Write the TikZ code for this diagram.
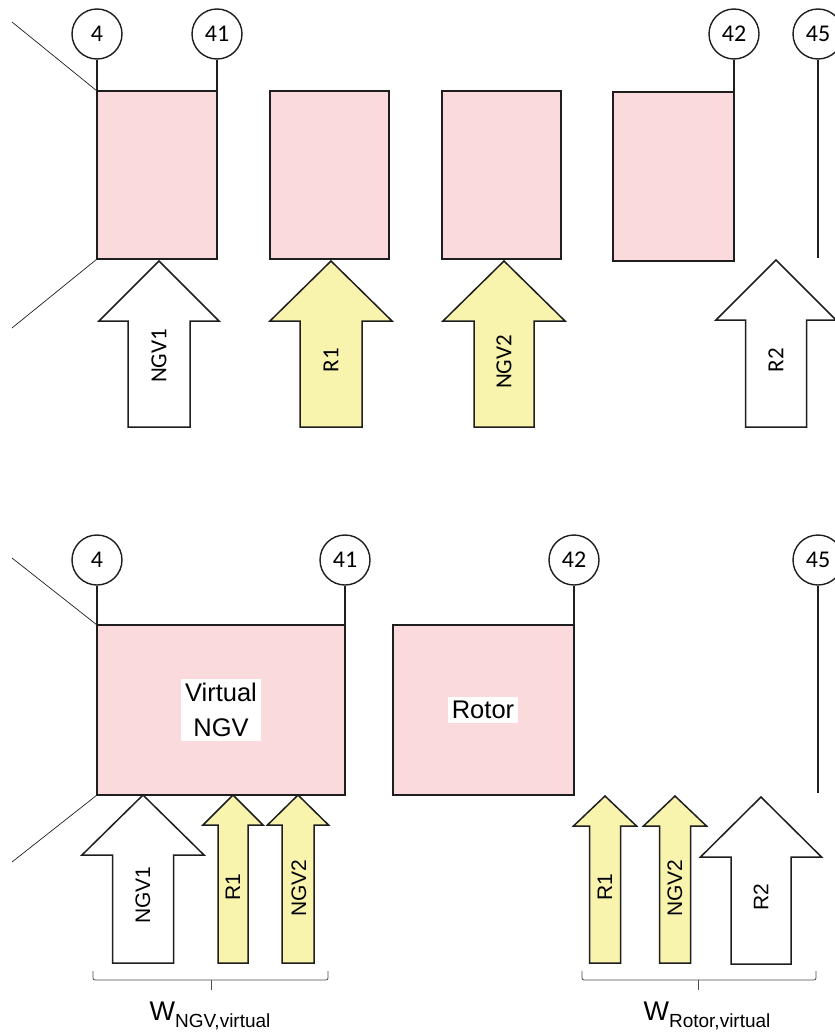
\documentclass[tikz,border=0pt]{standalone}
\usepackage{fontspec}
\setmainfont{Liberation Sans}
\newfontfamily\carlito{Carlito}
\definecolor{pinkfill}{RGB}{250,218,221}
\definecolor{yellowfill}{RGB}{248,244,174}
\definecolor{ink}{RGB}{30,30,30}
\newcommand\fatarrow[8]{%
  \draw[arrowshape,#8] (#2,#3) -- (#2+#4,#6) -- (#2+#5,#6) -- (#2+#5,#7) -- (#2-#5,#7) -- (#2-#5,#6) -- (#2-#4,#6) -- cycle;
  \coordinate (#1) at (#2,#3);}
\begin{document}
\begin{tikzpicture}[x=1pt,y=-1pt,
  station/.style={circle,draw=ink,line width=1.4pt,minimum size=50pt,inner sep=0pt,font=\carlito\fontsize{24}{26}\selectfont},
  stage/.style={rectangle,draw=ink,line width=1.6pt,fill=pinkfill,anchor=north west,inner sep=0pt,outer sep=0pt},
  lead/.style={draw=ink,line width=1.4pt},
  thin/.style={draw=ink,line width=0.7pt},
  arrowshape/.style={draw=ink,line width=1.5pt,line join=miter},
  whitearrow/.style={fill=white},
  yellowarrow/.style={fill=yellowfill},
  toplab/.style={rotate=90,font=\carlito\fontsize{23}{26}\selectfont,inner sep=0pt},
  botlab/.style={rotate=90,font=\fontsize{21}{24}\selectfont,inner sep=0pt},
  boxlab/.style={fill=white,font=\fontsize{25.5}{35}\selectfont,align=center,inner sep=4pt},
  brace/.style={draw=ink!80,line width=0.8pt,rounded corners=2pt},
  wlab/.style={inner sep=0pt}
]
\useasboundingbox (0,0) rectangle (835,1036);

% ===== Top section =====
\node[station] (t4) at (97,34) {4};
\node[station] (t41) at (217,34) {41};
\node[station] (t42) at (734,34) {42};
\node[station] (t45) at (818,34) {45};

\node[stage,minimum width=120pt,minimum height=168pt] (tb1) at (97,91) {};
\node[stage,minimum width=119pt,minimum height=168pt] (tb2) at (270,91) {};
\node[stage,minimum width=119pt,minimum height=168pt] (tb3) at (442,91) {};
\node[stage,minimum width=121pt,minimum height=169pt] (tb4) at (613,92) {};

\draw[lead] (t4.south) -- (t4.south |- tb1.north);
\draw[lead] (t41.south) -- (t41.south |- tb1.north);
\draw[lead] (t42.south) -- (t42.south |- tb4.north);
\coordinate (t45end) at (818,258);
\draw[lead] (t45.south) -- (t45end);

\coordinate (td1) at (12,22);
\coordinate (td2) at (12,328);
\draw[thin] (td1) -- (tb1.north west);
\draw[thin] (tb1.south west) -- (td2);

\fatarrow{ta1}{159}{261}{60}{31}{321}{427}{whitearrow}
\fatarrow{ta2}{331}{261}{61}{31}{321}{427}{yellowarrow}
\fatarrow{ta3}{504}{261}{61}{30}{321}{427}{yellowarrow}
\fatarrow{ta4}{776}{260}{60}{30.5}{320}{427}{whitearrow}

\node[toplab] (tl1) at (159,356) {NGV1};
\node[toplab] (tl2) at (331,360) {R1};
\node[toplab] (tl3) at (504,362) {NGV2};
\node[toplab] (tl4) at (776,360) {R2};

% ===== Bottom section =====
\node[station] (b4) at (97,560) {4};
\node[station] (b41) at (345,560) {41};
\node[station] (b42) at (574,560) {42};
\node[station] (b45) at (818,560) {45};

\node[stage,minimum width=248pt,minimum height=170pt] (bb1) at (97,625) {};
\node[stage,minimum width=181pt,minimum height=170pt] (bb2) at (393,625) {};

\draw[lead] (b4.south) -- (b4.south |- bb1.north);
\draw[lead] (b41.south) -- (b41.south |- bb1.north);
\draw[lead] (b42.south) -- (b42.south |- bb2.north);
\coordinate (b45end) at (818,793);
\draw[lead] (b45.south) -- (b45end);

\coordinate (bd1) at (12,558);
\coordinate (bd2) at (12,862);
\draw[thin] (bd1) -- (bb1.north west);
\draw[thin] (bb1.south west) -- (bd2);

\node[boxlab] (vngv) at (221,710) {Virtual\\NGV};
\node[boxlab] (rotor) at (483,710) {Rotor};

\fatarrow{ba1}{143}{795}{61}{30.5}{855}{963}{whitearrow}
\fatarrow{ba2}{233}{795}{30}{15}{825}{963}{yellowarrow}
\fatarrow{ba3}{298}{795}{30.5}{16}{825}{963}{yellowarrow}
\fatarrow{ba4}{605}{796}{31.5}{15.5}{826}{963}{yellowarrow}
\fatarrow{ba5}{675}{796}{31.5}{15.5}{826}{963}{yellowarrow}
\fatarrow{ba6}{761}{797}{60.5}{30}{857}{964}{whitearrow}

\node[botlab] (bl1) at (143,895) {NGV1};
\node[botlab] (bl2) at (233,887) {R1};
\node[botlab] (bl3) at (299,888) {NGV2};
\node[botlab] (bl4) at (605,887) {R1};
\node[botlab] (bl5) at (675,888) {NGV2};
\node[botlab] (bl6) at (761,897) {R2};

% braces
\coordinate (brl1) at (93,971);
\coordinate (brl2) at (328,971);
\draw[brace] (brl1) -- (93,980) -- (328,980) -- (brl2);
\coordinate (brlm) at (211,980);
\coordinate (brlt) at (211,990);
\draw[draw=ink!80,line width=0.8pt] (brlm) -- (brlt);

\coordinate (brr1) at (582,971);
\coordinate (brr2) at (816,971);
\draw[brace] (brr1) -- (582,980) -- (816,980) -- (brr2);
\coordinate (brrm) at (698,980);
\coordinate (brrt) at (698,990);
\draw[draw=ink!80,line width=0.8pt] (brrm) -- (brrt);

\node[wlab] (wngv) at (210,1016) {{\fontsize{27}{30}\selectfont W}{\fontsize{19}{22}\selectfont\raisebox{-7pt}{NGV,virtual}}};
\node[wlab] (wrot) at (707,1016) {{\fontsize{27}{30}\selectfont W}{\fontsize{19}{22}\selectfont\raisebox{-7pt}{Rotor,virtual}}};
\end{tikzpicture}
\end{document}
